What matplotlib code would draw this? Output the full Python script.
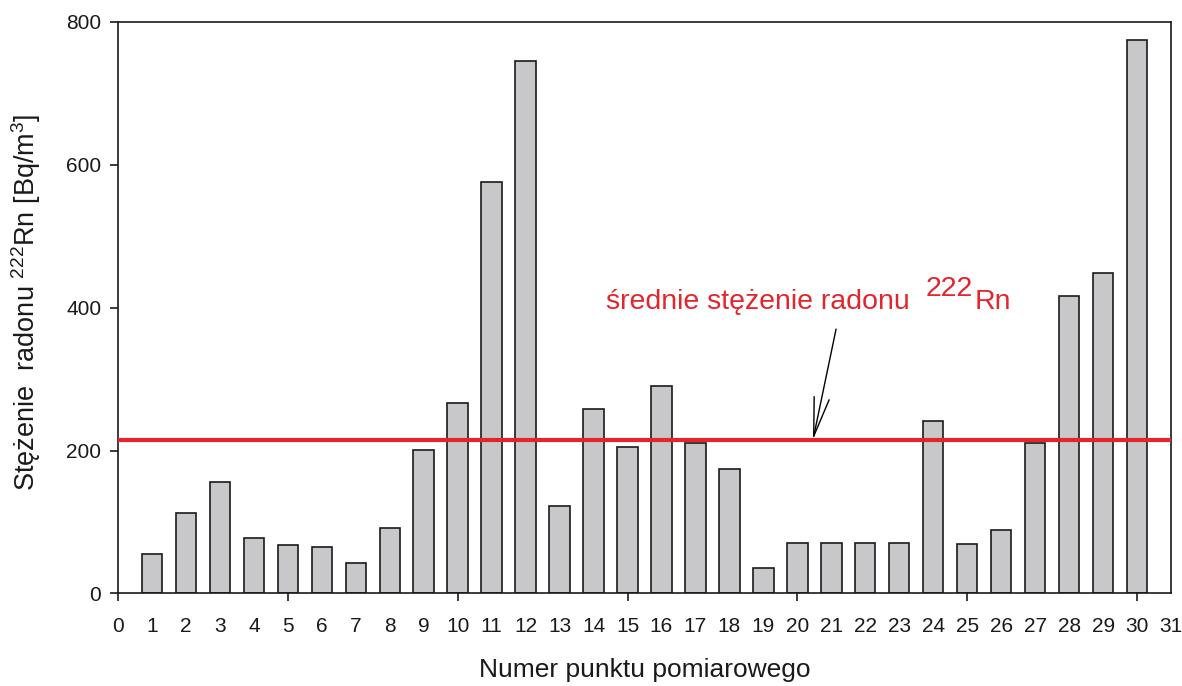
"""Radon concentration at measurement points, with the mean level marked."""

import matplotlib.pyplot as plt
from matplotlib.ticker import MultipleLocator, FixedLocator, FixedFormatter
from matplotlib.transforms import offset_copy

plt.rcParams["font.family"] = ["Liberation Sans", "DejaVu Sans"]
plt.rcParams["mathtext.fontset"] = "custom"
plt.rcParams["mathtext.rm"] = "Liberation Sans"
plt.rcParams["mathtext.it"] = "Liberation Sans"

# measurement points and 222Rn concentration [Bq/m3]
points = list(range(1, 31))
radon = [55, 113, 156, 78, 68, 65, 43, 92, 201, 267,
         576, 745, 123, 258, 205, 290, 210, 174, 36, 70,
         71, 71, 71, 241, 69, 89, 210, 416, 448, 775]
mean_radon = 215

RED = "#e3262c"
INK = "#1a1a1a"

fig = plt.figure(figsize=(11.82, 6.86), dpi=100)
ax = fig.add_axes([0.0998, 0.135, 0.8909, 0.833])

ax.bar(points, radon, width=0.6, color="#c8c8cb", edgecolor=INK,
       linewidth=1.2, zorder=2)
ax.axhline(mean_radon, color=RED, linewidth=3, zorder=3)

ax.set_xlim(0, 31)
ax.set_ylim(0, 800)

# tick marks only every 5, labels on every point
ax.xaxis.set_major_locator(MultipleLocator(5))
minor_pos = [i for i in range(32) if i % 5]
ax.xaxis.set_minor_locator(FixedLocator(minor_pos))
ax.xaxis.set_minor_formatter(FixedFormatter([str(i) for i in minor_pos]))
ax.yaxis.set_major_locator(MultipleLocator(200))
ax.tick_params(axis="x", which="major", direction="out", length=6, width=1.2,
               pad=11, labelsize=15, colors=INK)
ax.tick_params(axis="x", which="minor", length=0, pad=17, labelsize=15,
               labelcolor=INK)
ax.tick_params(axis="y", direction="out", length=6, width=1.2, pad=6,
               labelsize=15, colors=INK)
for sp in ax.spines.values():
    sp.set_linewidth(1.2)
    sp.set_color(INK)

ax.set_xlabel("Numer punktu pomiarowego", fontsize=19, labelpad=16, color=INK)
ax.set_ylabel("Stężenie  radonu $^{222}$Rn [Bq/m$^3$]", fontsize=19.5,
              color=INK)
ax.yaxis.set_label_coords(-0.071, 0.51)

# red caption: "222" drawn full size, lifted above the baseline
cap_size = 20.5
cap_x, cap_y = 14.37, 398.5
t1 = ax.text(cap_x, cap_y, "średnie stężenie radonu ", color=RED,
             fontsize=cap_size, ha="left", va="baseline")
fig.canvas.draw()
w1 = t1.get_window_extent().width * 72 / fig.dpi + 6
t2 = ax.text(cap_x, cap_y, "222", color=RED, fontsize=cap_size, ha="left",
             va="baseline",
             transform=offset_copy(ax.transData, fig, x=w1, y=9, units="points"))
fig.canvas.draw()
w2 = t2.get_window_extent().width * 72 / fig.dpi + 1
ax.text(cap_x, cap_y, "Rn", color=RED, fontsize=cap_size, ha="left",
        va="baseline",
        transform=offset_copy(ax.transData, fig, x=w1 + w2, y=0, units="points"))

ax.annotate("", xy=(20.46, mean_radon), xytext=(21.14, 370),
            arrowprops=dict(arrowstyle="->,head_length=2.8,head_width=0.55",
                            lw=1, color="black", shrinkA=0, shrinkB=0,
                            mutation_scale=10))

plt.savefig("out.png", dpi=100)
